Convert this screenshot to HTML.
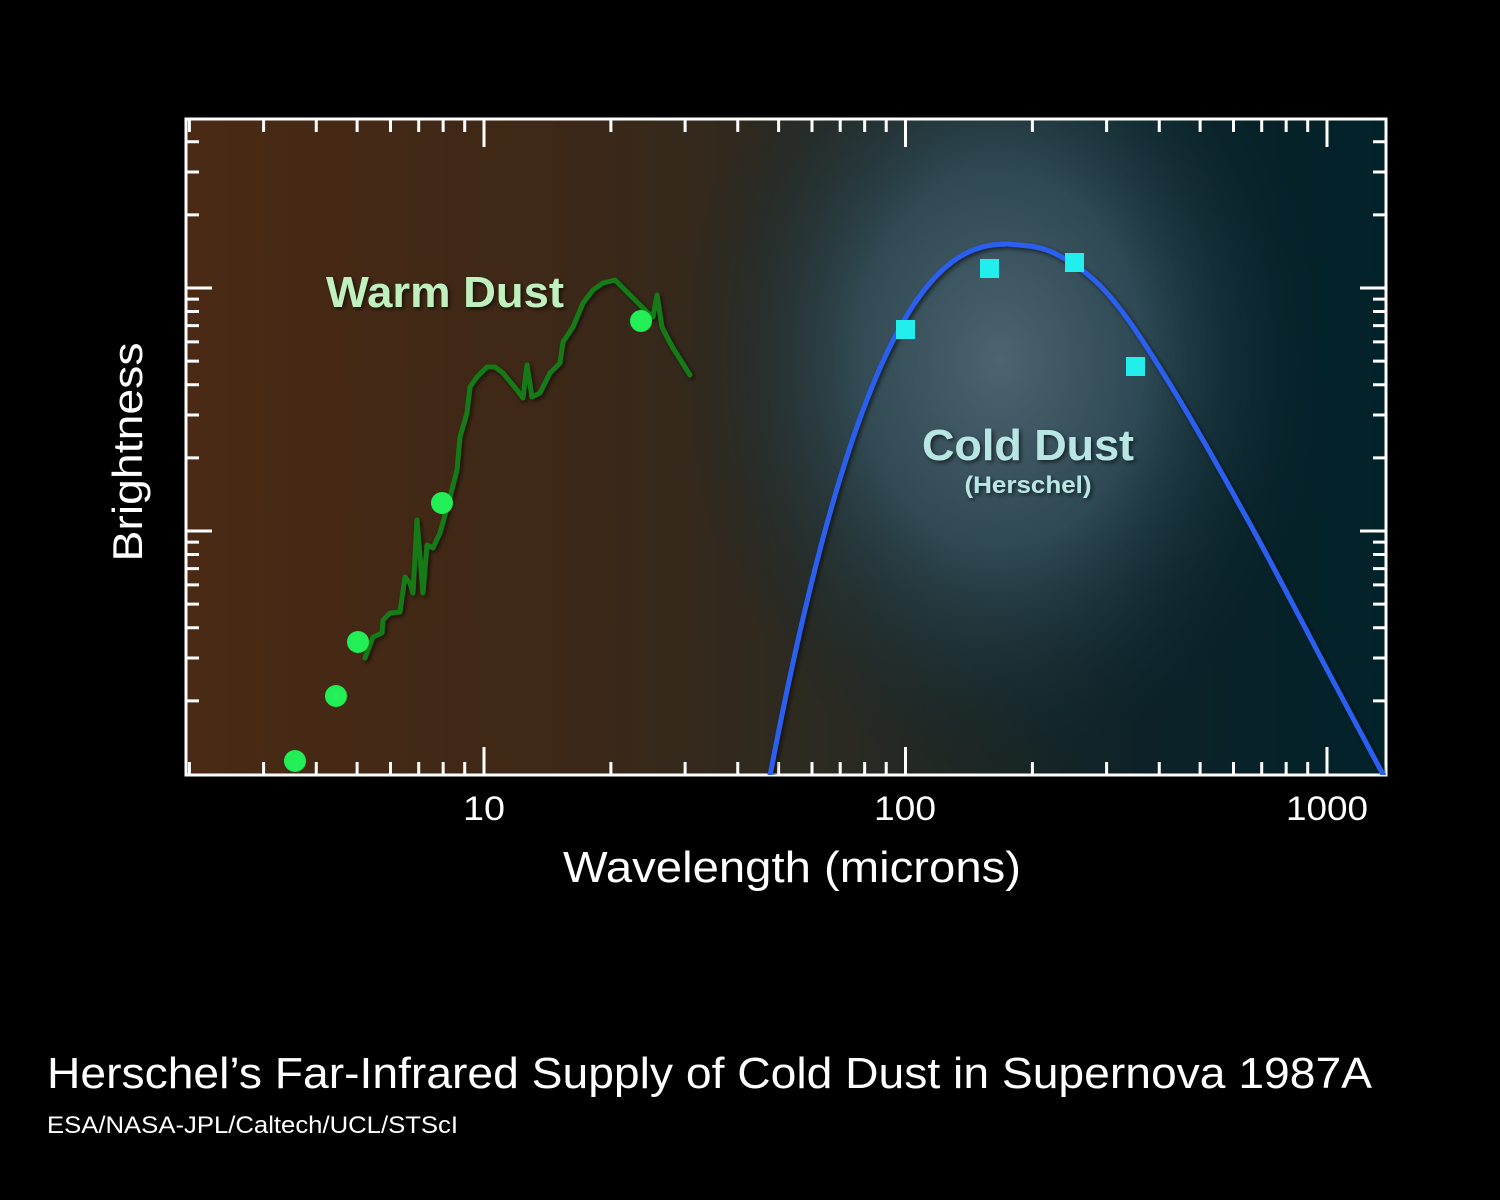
<!DOCTYPE html>
<html><head><meta charset="utf-8"><style>
html,body{margin:0;padding:0;background:#000;}
svg{display:block;}
text{font-family:"Liberation Sans",sans-serif;}
</style></head><body>
<svg width="1500" height="1200" viewBox="0 0 1500 1200" xmlns="http://www.w3.org/2000/svg">
<defs>
<linearGradient id="bg" x1="0" y1="0" x2="1" y2="0">
<stop offset="0" stop-color="#4a2a14"/>
<stop offset="0.3" stop-color="#3e2817"/>
<stop offset="0.55" stop-color="#2a2a22"/>
<stop offset="0.8" stop-color="#0c2228"/>
<stop offset="1" stop-color="#02222a"/>
</linearGradient>
<radialGradient id="glow" cx="1000" cy="360" r="320" gradientUnits="userSpaceOnUse" gradientTransform="translate(1000 360) scale(1 1.3) translate(-1000 -360)">
<stop offset="0" stop-color="#4e6470" stop-opacity="1"/>
<stop offset="0.45" stop-color="#33505c" stop-opacity="0.85"/>
<stop offset="1" stop-color="#0a2630" stop-opacity="0"/>
</radialGradient>
<filter id="sh"><feDropShadow dx="2" dy="2" stdDeviation="2" flood-color="#000" flood-opacity="0.6"/></filter>
<clipPath id="cp"><rect x="186" y="119" width="1200" height="656"/></clipPath>
</defs>
<rect x="0" y="0" width="1500" height="1200" fill="#000"/>
<rect x="186" y="119" width="1200" height="656" fill="url(#bg)"/>
<rect x="186" y="119" width="1200" height="656" fill="url(#glow)"/>
<rect x="186" y="119" width="1200" height="656" stroke="#fff" stroke-width="3" fill="none"/>
<g id="tk" stroke="#fff" stroke-width="3"></g>
<polyline fill="none" stroke="#157a15" stroke-width="5" stroke-linejoin="round" stroke-linecap="round" filter="url(#sh)" points="365,658 373,637 382,633 383,620 390,613 400,612 405,577 410,583 413,593 417,520 423,593 427,545 433,548 440,533 450,497 457,470 460,437 467,413 470,387 477,377 487,367 495,367 503,373 517,390 523,398 527,365 532,397 540,393 550,373 560,363 563,342 573,327 583,303 593,290 603,283 615,280 623,288 633,298 647,312 653,317 657,295 662,327 667,337 673,348 690,375"/>
<g fill="#22ee55">
<circle cx="295" cy="761" r="11"/><circle cx="336" cy="696" r="11"/><circle cx="358" cy="642" r="11"/><circle cx="442" cy="503" r="11"/><circle cx="641" cy="321" r="11"/>
</g>
<g clip-path="url(#cp)"><path id="blue" fill="none" stroke="#2a5ff0" stroke-width="5" stroke-linejoin="round" filter="url(#sh)" d=""/></g>
<g fill="#22eeee">
<rect x="896" y="320" width="19" height="19"/><rect x="980" y="259" width="19" height="19"/><rect x="1065" y="253" width="19" height="19"/><rect x="1126" y="357" width="19" height="19"/>
</g>
<text x="445" y="307" text-anchor="middle" font-size="44" font-weight="bold" fill="#bff0bd" textLength="238" lengthAdjust="spacingAndGlyphs" filter="url(#sh)">Warm Dust</text>
<text x="1028" y="460" text-anchor="middle" font-size="44" font-weight="bold" fill="#b8e6e4" textLength="212" lengthAdjust="spacingAndGlyphs" filter="url(#sh)">Cold Dust</text>
<text x="1028" y="493" text-anchor="middle" font-size="24" font-weight="bold" fill="#b8e6e4" textLength="127" lengthAdjust="spacingAndGlyphs" filter="url(#sh)">(Herschel)</text>
<g fill="#fff" font-size="34" text-anchor="middle">
<text x="484" y="820" textLength="42" lengthAdjust="spacingAndGlyphs">10</text><text x="905" y="820" textLength="62" lengthAdjust="spacingAndGlyphs">100</text><text x="1327" y="820" textLength="82" lengthAdjust="spacingAndGlyphs">1000</text>
</g>
<text x="792" y="882" text-anchor="middle" font-size="44" fill="#fff" textLength="458" lengthAdjust="spacingAndGlyphs">Wavelength (microns)</text>
<text transform="translate(142 452) rotate(-90)" text-anchor="middle" font-size="42" fill="#fff" textLength="219" lengthAdjust="spacingAndGlyphs">Brightness</text>
<text x="47" y="1088" font-size="44" fill="#fff" textLength="1325" lengthAdjust="spacingAndGlyphs">Herschel’s Far-Infrared Supply of Cold Dust in Supernova 1987A</text>
<text x="47" y="1133" font-size="24" fill="#fff" textLength="411" lengthAdjust="spacingAndGlyphs">ESA/NASA-JPL/Caltech/UCL/STScI</text>
</svg>
<script>
(function(){
var g=document.getElementById('tk'),ns='http://www.w3.org/2000/svg',d='';
function X(v){return 62.5+421.5*Math.log10(v);}
[1,10,100,1000].forEach(function(p){for(var k=1;k<10;k++){var x=X(k*p);if(x<=188||x>=1384)continue;var L=k==1?28:13;
d+='M'+x+',119v'+L+'M'+x+',775v-'+L;}});
[45,288,531,774].forEach(function(m){for(var k=1;k<10;k++){var y=m-243*Math.log10(k);if(y<=121||y>=773)continue;var L=k==1?26:13;
d+='M186,'+y+'h'+L+'M1386,'+y+'h-'+L;}});
var p=document.createElementNS(ns,'path');p.setAttribute('d',d);g.appendChild(p);
var s='';
for(var x=768;x<=1009;x+=2){var u=1009-x;var y=244+87*Math.pow(u/111,2.36);s+=(s?'L':'M')+x+','+y.toFixed(1);}
var P=[[995,244.3],[1009,244],[1054,253],[1107,293],[1168,381],[1250,524],[1331,677],[1386,780]];
for(var i=1;i<P.length-1;i++){var p0=P[i-1],p1=P[i],p2=P[i+1],p3=P[i+2]||P[i+1];
s+='C'+(p1[0]+(p2[0]-p0[0])/6)+','+(p1[1]+(p2[1]-p0[1])/6)+' '+(p2[0]-(p3[0]-p1[0])/6)+','+(p2[1]-(p3[1]-p1[1])/6)+' '+p2[0]+','+p2[1];}
document.getElementById('blue').setAttribute('d',s);
})();
</script>
</body></html>
